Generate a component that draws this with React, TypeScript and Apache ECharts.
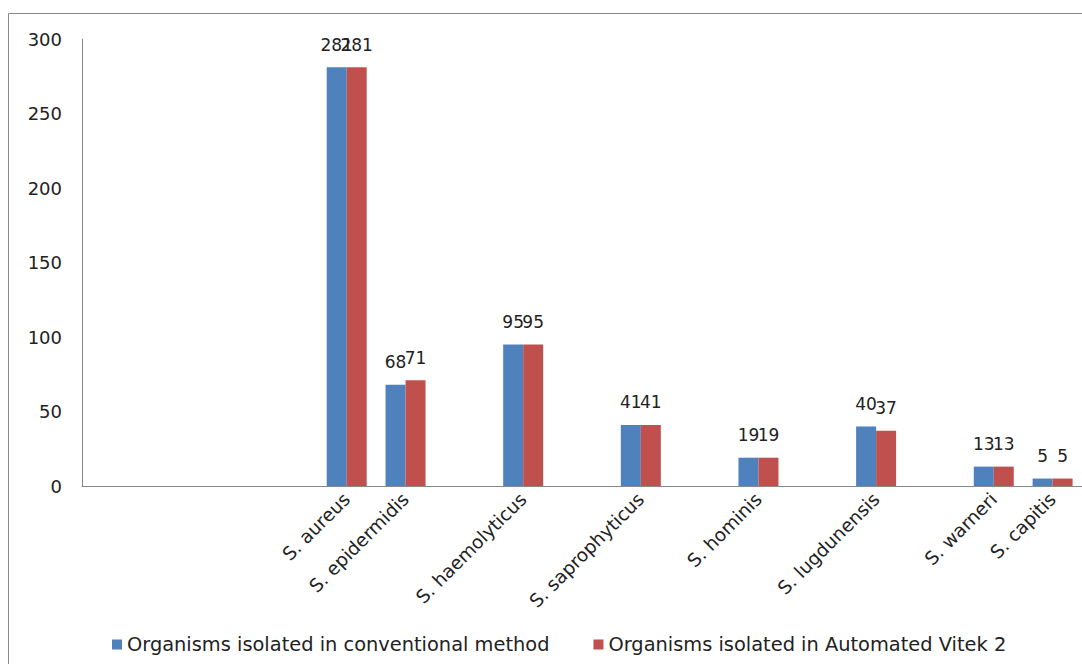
import React, { useEffect, useRef } from "react";
import * as echarts from "echarts";

const categories = ["", "", "", "", "S. aureus", "S. epidermidis", "", "S. haemolyticus", "", "S. saprophyticus", "", "S. hominis", "", "S. lugdunensis", "", "S. warneri", "S. capitis"];
const conventional = [null, null, null, null, 281, 68, null, 95, null, 41, null, 19, null, 40, null, 13, 5];
const vitek = [null, null, null, null, 281, 71, null, 95, null, 41, null, 19, null, 37, null, 13, 5];
const seriesNames = ["Organisms isolated in conventional method", "Organisms isolated in Automated Vitek 2"];
const yTicks = { min: 0, max: 300, interval: 50 };

const FONT = "'DejaVu Sans', sans-serif";

export default function App() {
  const ref = useRef<HTMLDivElement>(null);
  useEffect(() => {
    if (!ref.current) return;
    const chart = echarts.init(ref.current, null, { renderer: "svg" });
    const label = {
      show: true,
      position: "top" as const,
      distance: 14,
      fontSize: 17,
      color: "#222",
      fontFamily: FONT,
    };
    chart.setOption({
      animation: false,
      backgroundColor: "#fff",
      graphic: [
        {
          type: "rect",
          shape: { x: 8.5, y: 13.5, width: 1200, height: 800 },
          style: { fill: "none", stroke: "#888", lineWidth: 1 },
          silent: true,
        },
      ],
      grid: { left: 82, right: 0, top: 39, bottom: 178, containLabel: false },
      legend: {
        left: 107,
        top: 630,
        itemWidth: 10,
        itemHeight: 10,
        itemGap: 44,
        icon: "rect",
        textStyle: { fontSize: 19.4, color: "#222", fontFamily: FONT },
        data: seriesNames,
      },
      xAxis: {
        type: "category",
        data: categories,
        axisLine: { show: true, lineStyle: { color: "#888", width: 1 } },
        axisTick: { show: false },
        axisLabel: {
          interval: 0,
          rotate: 45,
          margin: 10,
          fontSize: 18.5,
          color: "#222",
          fontFamily: FONT,
        },
      },
      yAxis: {
        type: "value",
        min: yTicks.min,
        max: yTicks.max,
        interval: yTicks.interval,
        axisLine: { show: true, lineStyle: { color: "#888", width: 1 } },
        axisTick: { show: false },
        splitLine: { show: false },
        axisLabel: { margin: 20, fontSize: 18, color: "#222", fontFamily: FONT },
      },
      series: [
        {
          name: seriesNames[0],
          type: "bar",
          data: conventional,
          barWidth: 20,
          barGap: "0%",
          itemStyle: { color: "#4F81BD" },
          label,
        },
        {
          name: seriesNames[1],
          type: "bar",
          data: vitek,
          barWidth: 20,
          barGap: "0%",
          itemStyle: { color: "#C0504D" },
          label,
        },
      ],
    });
    return () => chart.dispose();
  }, []);
  return (
    <div
      ref={ref}
      style={{ position: "fixed", left: 0, top: 0, width: 1082, height: 664 }}
    />
  );
}
